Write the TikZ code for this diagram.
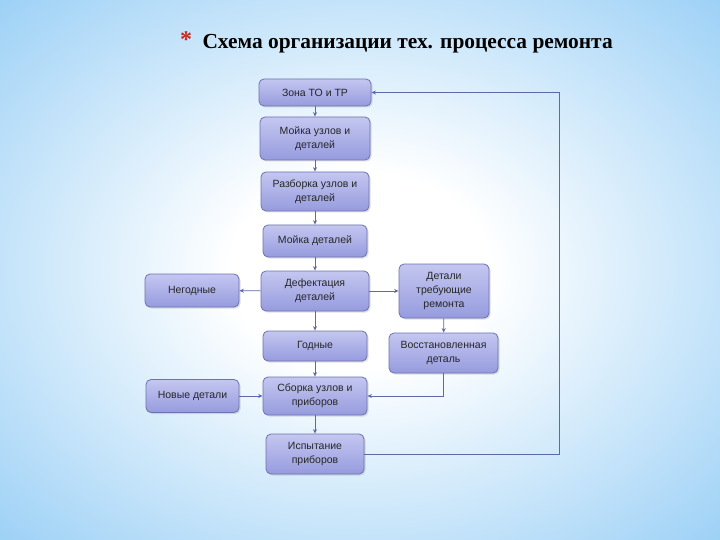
\documentclass[tikz,border=0pt]{standalone}
\usepackage{fontspec}
\setmainfont{Liberation Sans}
\newfontfamily\titlefont{Liberation Serif}
\usetikzlibrary{arrows.meta,shadows}

\definecolor{bgsky}{RGB}{155,208,246}
\definecolor{boxtop}{RGB}{196,199,240}
\definecolor{boxbot}{RGB}{150,155,222}
\definecolor{boxline}{RGB}{110,114,176}
\definecolor{linkcol}{RGB}{95,105,165}
\definecolor{starred}{RGB}{200,40,30}

\pgfdeclareradialshading{nebo}{\pgfpoint{0bp}{0bp}}{%
  color(0bp)=(white); color(9bp)=(white); color(36bp)=(bgsky); color(50bp)=(bgsky)}

\tikzset{
  blok/.style={draw=boxline, line width=0.8pt, rounded corners=5pt,
    top color=boxtop, bottom color=boxbot, align=center,
    font=\fontsize{10.5}{14}\selectfont, text=black!85,
    drop shadow={opacity=0.25, shadow xshift=1.5pt, shadow yshift=-1.5pt},
    inner sep=1pt},
  strel/.style={draw=linkcol, line width=0.8pt, -{Stealth[length=4.5pt,width=4pt]}},
}

\begin{document}
\begin{tikzpicture}[x=1pt,y=-1pt]
  % background
  \shade[shading=nebo] (0,0) rectangle (720,540);
  \useasboundingbox (0,0) rectangle (720,540);

  % title
  \node[text=starred, font=\titlefont\bfseries\fontsize{24}{24}\selectfont] (zvezda) at (186,40) {*};
  \node[anchor=west, font=\titlefont\bfseries\fontsize{21.4}{21.4}\selectfont] (zagolovok) at (199,44)
    {Схема организации тех. процесса ремонта};

  % main column
  \node[blok, minimum width=112pt, minimum height=27pt] (zona) at (315,92.5) {Зона ТО и ТР};
  \node[blok, minimum width=110pt, minimum height=43pt] (mojka) at (315,138.5) {Мойка узлов и\\деталей};
  \node[blok, minimum width=108pt, minimum height=39pt] (razborka) at (315,191.5) {Разборка узлов и\\деталей};
  \node[blok, minimum width=104pt, minimum height=32pt] (mojkadet) at (315,241) {Мойка деталей};
  \node[blok, minimum width=108pt, minimum height=40pt] (defekt) at (315,291) {Дефектация\\деталей};
  \node[blok, minimum width=104pt, minimum height=30pt] (godnye) at (315,346) {Годные};
  \node[blok, minimum width=104pt, minimum height=38pt] (sborka) at (315,396) {Сборка узлов и\\приборов};
  \node[blok, minimum width=98pt, minimum height=40pt] (ispyt) at (315,454) {Испытание\\приборов};

  % side boxes
  \node[blok, minimum width=94pt, minimum height=33pt] (negodnye) at (192,290.5) {Негодные};
  \node[blok, minimum width=93pt, minimum height=33pt] (novye) at (192.5,396) {Новые детали};
  \node[blok, minimum width=90pt, minimum height=54pt] (remont) at (444,291) {Детали\\требующие\\ремонта};
  \node[blok, minimum width=109pt, minimum height=40pt] (vosst) at (443.5,353) {Восстановленная\\деталь};

  \coordinate (petlya) at (559,0);

  % links
  \draw[strel] (zona) -- (mojka);
  \draw[strel] (mojka) -- (razborka);
  \draw[strel] (razborka) -- (mojkadet);
  \draw[strel] (mojkadet) -- (defekt);
  \draw[strel] (defekt) -- (godnye);
  \draw[strel] (godnye) -- (sborka);
  \draw[strel] (sborka) -- (ispyt);
  \draw[strel] (defekt) -- (negodnye);
  \draw[strel] (defekt) -- (remont);
  \draw[strel] (remont) -- (vosst);
  \draw[strel] (vosst.south) |- (sborka.east);
  \draw[strel] (novye) -- (sborka);
  \draw[strel] (ispyt.east) -- (ispyt.east -| petlya) |- (zona.east);
\end{tikzpicture}
\end{document}
